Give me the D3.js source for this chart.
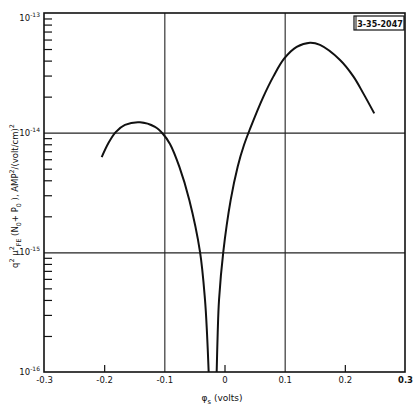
<!DOCTYPE html>
<html>
<head>
<meta charset="utf-8">
<script src="https://cdn.jsdelivr.net/npm/d3@7"></script>
<style>
  body { margin: 0; background: #fff; }
  text { font-family: "DejaVu Sans", sans-serif; fill: #111; }
</style>
</head>
<body>
<script>
// left branch of the curve (phi_s in volts, value)
var leftX = [-0.2041, -0.1931, -0.1808, -0.1654, -0.1404, -0.1155, -0.1022, -0.0906, -0.0751, -0.0585, -0.0407, -0.0324, -0.0291, -0.0263];
var leftY = [6.24e-15, 8.15e-15, 1.01e-14, 1.16e-14, 1.22e-14, 1.117e-14, 9.75e-15, 8.05e-15, 5.2e-15, 2.74e-15, 1.01e-15, 4.0e-16, 2.12e-16, 1.0e-16];
// right branch
var rightX = [-0.013, -0.0113, -0.0091, -0.002, 0.0103, 0.0219, 0.0324, 0.0424, 0.0645, 0.0811, 0.0994, 0.12, 0.1421, 0.1587, 0.192, 0.2144, 0.2307, 0.2489];
var rightY = [1.0e-16, 2.12e-16, 4.0e-16, 1.01e-15, 2.74e-15, 5.2e-15, 7.88e-15, 1.074e-14, 1.99e-14, 2.94e-14, 4.17e-14, 5.21e-14, 5.65e-14, 5.41e-14, 4.05e-14, 2.94e-14, 2.13e-14, 1.45e-14];

var xLabels = [-0.3, -0.2, -0.1, 0, 0.1, 0.2, 0.3];
var xTicks = [-0.2, 0, 0.2];
var xGrid = [-0.1, 0.1];
var yDecades = [1e-13, 1e-14, 1e-15, 1e-16];
var yGrid = [1e-14, 1e-15];
var tag = "3-35-2047";

const w = 413, h = 419;
const pLeft = 44, pRight = 405, pTop = 13, pBottom = 372;

const svg = d3.select("body").append("svg")
    .attr("width", w)
    .attr("height", h);

var x = d3.scaleLinear().domain([-0.3, 0.3]).range([pLeft, pRight]);
var y = d3.scaleLog().domain([1e-16, 1e-13]).range([pBottom, pTop]);

// minor ticks 2..9 in every decade
var minor = [];
[1e-16, 1e-15, 1e-14].forEach(function (d) {
    for (var k = 2; k <= 9; k++) minor.push(d * k);
});

// grid lines
svg.append("g")
    .attr("transform", "translate(0," + pBottom + ")")
    .call(d3.axisBottom(x).tickValues(xGrid).tickSize(-(pBottom - pTop)).tickFormat(""))
    .call(g => g.select(".domain").remove())
    .selectAll("line").attr("stroke", "#222").attr("stroke-width", 1.1);

svg.append("g")
    .attr("transform", "translate(" + pLeft + ",0)")
    .call(d3.axisLeft(y).tickValues(yGrid).tickSize(-(pRight - pLeft)).tickFormat(""))
    .call(g => g.select(".domain").remove())
    .selectAll("line").attr("stroke", "#222").attr("stroke-width", 1.1);

// minor ticks on left axis
svg.append("g")
    .attr("transform", "translate(" + pLeft + ",0)")
    .call(d3.axisLeft(y).tickValues(minor).tickSize(-8).tickFormat(""))
    .call(g => g.select(".domain").remove())
    .selectAll("line").attr("stroke", "#111").attr("stroke-width", 1.2);

// small ticks on bottom axis
svg.append("g")
    .attr("transform", "translate(0," + pBottom + ")")
    .call(d3.axisBottom(x).tickValues(xTicks).tickSize(-7).tickFormat(""))
    .call(g => g.select(".domain").remove())
    .selectAll("line").attr("stroke", "#111").attr("stroke-width", 1.2);

// x labels
var xl = svg.append("g")
    .attr("transform", "translate(0," + pBottom + ")")
    .call(d3.axisBottom(x).tickValues(xLabels).tickSize(0).tickPadding(5)
        .tickFormat(d => d === 0 ? "0" : (d < 0 ? "-" : "") + d3.format(".1f")(Math.abs(d))));
xl.select(".domain").remove();
xl.selectAll("text")
    .style("font-family", "'DejaVu Sans', sans-serif")
    .attr("font-size", 8.5)
    .attr("fill", "#111")
    .attr("font-weight", d => d === 0.3 ? "bold" : "normal");

// y decade labels: 10 with superscript exponent
var yl = svg.append("g").selectAll("text")
    .data(yDecades)
    .enter()
    .append("text")
    .attr("x", pLeft - 4)
    .attr("y", d => y(d) + (d === 1e-13 ? 8 : 3))
    .attr("text-anchor", "end")
    .attr("font-size", 8.5);
yl.append("tspan").text("10");
yl.append("tspan")
    .attr("dy", -4)
    .attr("font-size", 6)
    .text(d => "-" + Math.round(-Math.log10(d)));

// frame
svg.append("rect")
    .attr("x", pLeft).attr("y", pTop)
    .attr("width", pRight - pLeft).attr("height", pBottom - pTop)
    .attr("fill", "none")
    .attr("stroke", "#111")
    .attr("stroke-width", 1.6);

// curve
var line = d3.line()
    .x(d => x(d[0]))
    .y(d => y(d[1]))
    .curve(d3.curveCatmullRom.alpha(0.5));

[[leftX, leftY], [rightX, rightY]].forEach(function (s) {
    svg.append("path")
        .datum(d3.zip(s[0], s[1]))
        .attr("d", line)
        .attr("fill", "none")
        .attr("stroke", "#111")
        .attr("stroke-width", 2);
});

// tag box
var tg = svg.append("g").attr("transform", "translate(354,16)");
tg.append("rect")
    .attr("width", 50).attr("height", 14)
    .attr("fill", "#fff")
    .attr("stroke", "#111")
    .attr("stroke-width", 1.2);
tg.append("line")
    .attr("x1", 2).attr("x2", 2).attr("y1", 0).attr("y2", 14)
    .attr("stroke", "#111").attr("stroke-width", 1);
tg.append("text")
    .attr("x", 26).attr("y", 10.5)
    .attr("text-anchor", "middle")
    .attr("font-size", 8)
    .attr("font-weight", "bold")
    .text(tag);

// helper for text with super/subscripts: [text, shift]
function richText(sel, parts, size) {
    var cur = 0;
    parts.forEach(function (p) {
        var shift = p[1] || 0;
        sel.append("tspan")
            .attr("dy", shift - cur)
            .attr("font-size", shift === 0 ? size : size * 0.75)
            .text(p[0]);
        cur = shift;
    });
}

// x title
var xt = svg.append("text")
    .attr("x", 222).attr("y", 401)
    .attr("text-anchor", "middle");
richText(xt, [["\u03c6", 0], ["s", 3], [" (volts)", 0]], 9);

// y title
var yt = svg.append("text")
    .attr("transform", "translate(18,196) rotate(-90)")
    .attr("text-anchor", "middle");
richText(yt, [["q", 0], ["2", -4], [" \u03bc", 0], ["2", -4], ["FE", 3],
    ["  (N", 0], ["0", 3], ["+ P", 0], ["0", 3], [" ), AMP", 0], ["2", -4],
    ["/(volt/cm)", 0], ["2", -4]], 8.5);
</script>
</body>
</html>
